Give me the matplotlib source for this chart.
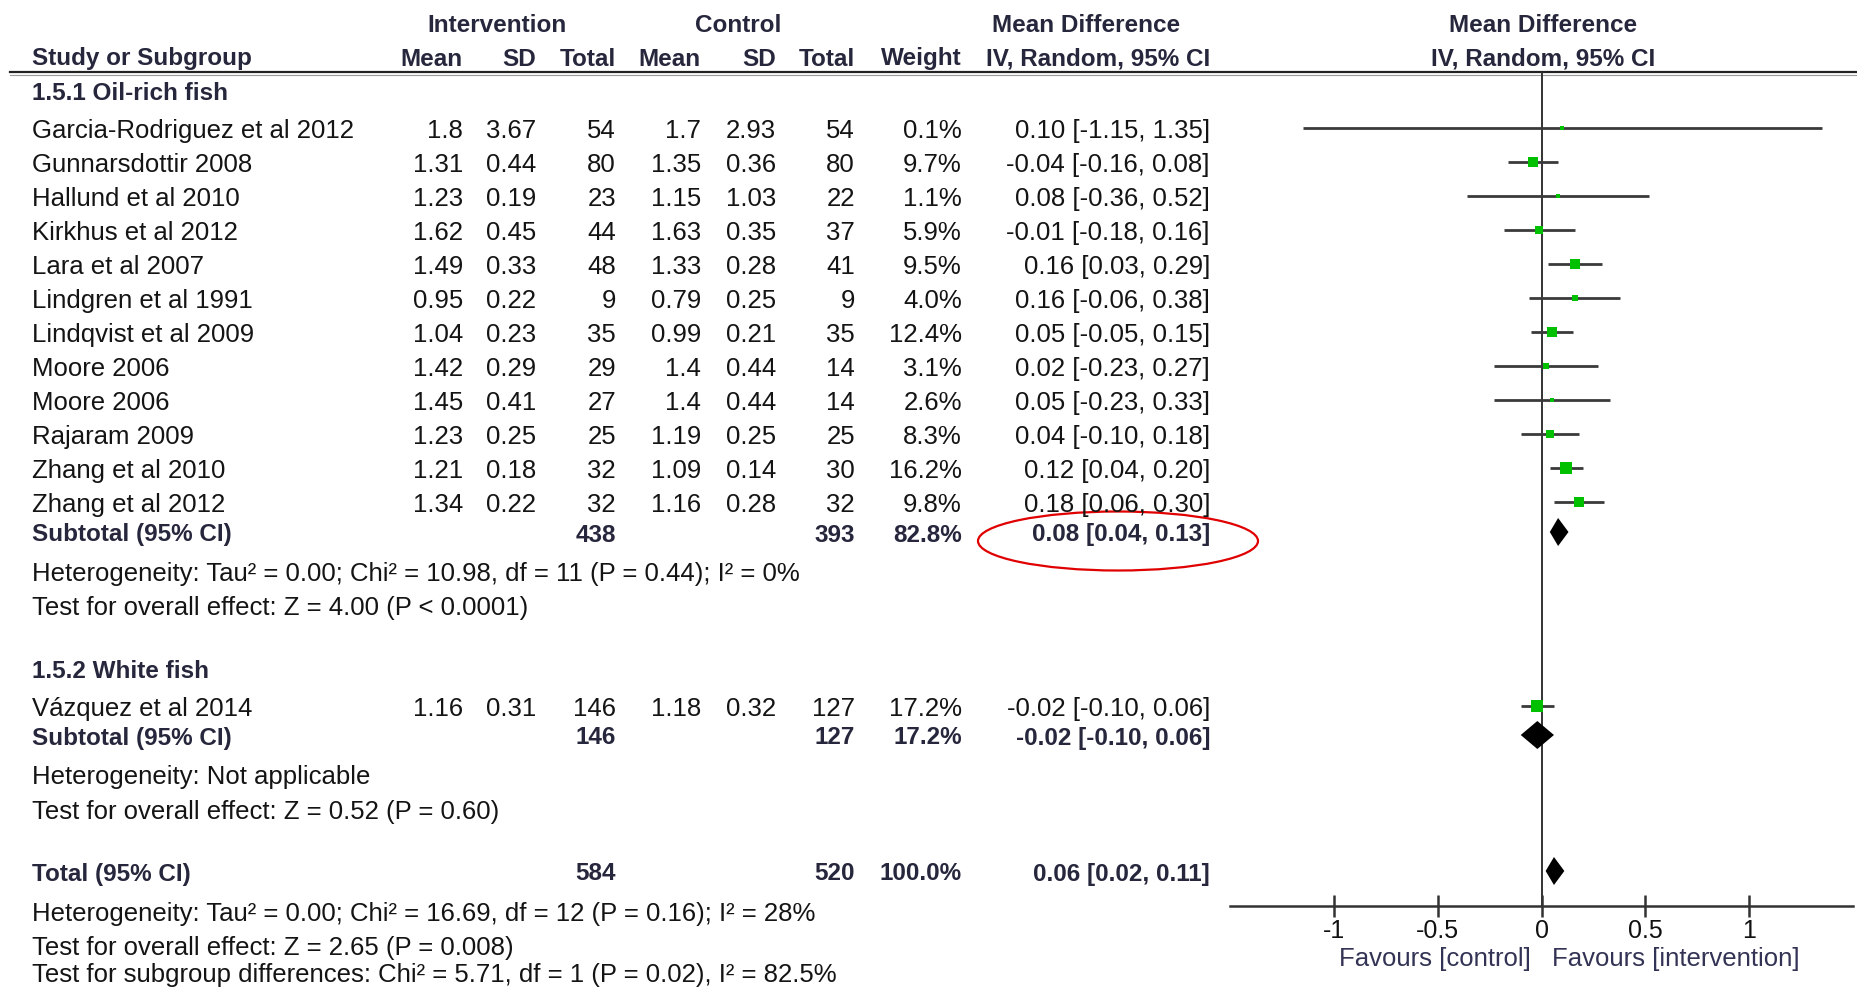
import matplotlib
matplotlib.use("Agg")
import matplotlib.pyplot as plt
from matplotlib.patches import Ellipse

plt.rcParams['font.family'] = ['Liberation Sans', 'DejaVu Sans']
plt.rcParams['axes.unicode_minus'] = False

# 1.5.1 Oil-rich fish
studies1 = ["Garcia-Rodriguez et al 2012", "Gunnarsdottir 2008", "Hallund et al 2010",
            "Kirkhus et al 2012", "Lara et al 2007", "Lindgren et al 1991",
            "Lindqvist et al 2009", "Moore 2006", "Moore 2006", "Rajaram 2009",
            "Zhang et al 2010", "Zhang et al 2012"]
int_mean1 = [1.8, 1.31, 1.23, 1.62, 1.49, 0.95, 1.04, 1.42, 1.45, 1.23, 1.21, 1.34]
int_sd1 = [3.67, 0.44, 0.19, 0.45, 0.33, 0.22, 0.23, 0.29, 0.41, 0.25, 0.18, 0.22]
int_n1 = [54, 80, 23, 44, 48, 9, 35, 29, 27, 25, 32, 32]
ctl_mean1 = [1.7, 1.35, 1.15, 1.63, 1.33, 0.79, 0.99, 1.4, 1.4, 1.19, 1.09, 1.16]
ctl_sd1 = [2.93, 0.36, 1.03, 0.35, 0.28, 0.25, 0.21, 0.44, 0.44, 0.25, 0.14, 0.28]
ctl_n1 = [54, 80, 22, 37, 41, 9, 35, 14, 14, 25, 30, 32]
weight1 = [0.1, 9.7, 1.1, 5.9, 9.5, 4.0, 12.4, 3.1, 2.6, 8.3, 16.2, 9.8]
md1 = [0.10, -0.04, 0.08, -0.01, 0.16, 0.16, 0.05, 0.02, 0.05, 0.04, 0.12, 0.18]
lo1 = [-1.15, -0.16, -0.36, -0.18, 0.03, -0.06, -0.05, -0.23, -0.23, -0.10, 0.04, 0.06]
hi1 = [1.35, 0.08, 0.52, 0.16, 0.29, 0.38, 0.15, 0.27, 0.33, 0.18, 0.20, 0.30]
sub1 = dict(n_int=438, n_ctl=393, w=82.8, md=0.08, lo=0.04, hi=0.13)
het1 = "Heterogeneity: Tau² = 0.00; Chi² = 10.98, df = 11 (P = 0.44); I² = 0%"
eff1 = "Test for overall effect: Z = 4.00 (P < 0.0001)"

# 1.5.2 White fish
studies2 = ["Vázquez et al 2014"]
int_mean2 = [1.16]
int_sd2 = [0.31]
int_n2 = [146]
ctl_mean2 = [1.18]
ctl_sd2 = [0.32]
ctl_n2 = [127]
weight2 = [17.2]
md2 = [-0.02]
lo2 = [-0.10]
hi2 = [0.06]
sub2 = dict(n_int=146, n_ctl=127, w=17.2, md=-0.02, lo=-0.10, hi=0.06)
het2 = "Heterogeneity: Not applicable"
eff2 = "Test for overall effect: Z = 0.52 (P = 0.60)"

total = dict(n_int=584, n_ctl=520, w=100.0, md=0.06, lo=0.02, hi=0.11)
het_t = "Heterogeneity: Tau² = 0.00; Chi² = 16.69, df = 12 (P = 0.16); I² = 28%"
eff_t = "Test for overall effect: Z = 2.65 (P = 0.008)"
sub_t = "Test for subgroup differences: Chi² = 5.71, df = 1 (P = 0.02), I² = 82.5%"

ticks = [-1, -0.5, 0, 0.5, 1]
tick_labels = ["-1", "-0.5", "0", "0.5", "1"]

W, H = 1857, 989
fig = plt.figure(figsize=(W / 100, H / 100), dpi=100)
bg = fig.add_axes([0, 0, 1, 1])
bg.set_xlim(0, W)
bg.set_ylim(H, 0)
bg.axis('off')

fa = fig.add_axes([1230 / W, 0, 623 / W, 1])
fa.set_xlim(-1.5, 1.5)
fa.set_ylim(H, 0)
fa.patch.set_alpha(0)
for s in ['top', 'left', 'right']:
    fa.spines[s].set_visible(False)
fa.spines['bottom'].set_position(('data', 906))
fa.spines['bottom'].set_linewidth(1.8)
fa.spines['bottom'].set_color('#333333')
fa.set_yticks([])
fa.set_xticks(ticks, tick_labels)
fa.tick_params(axis='x', direction='inout', length=16, width=1.8, color='#333333',
               labelsize=18, pad=1, labelcolor='#111111')

FS_B = 17.5
FS_R = 18.5
BOLD_C = '#26263c'
TXT_C = '#141414'
DY = 3

# column right edges
cx = dict(im=463, isd=536, itot=616, cm=701, csd=776, ctot=855, w=962, ci=1210)
xl = 32

def t(x, y, s, ha='right', bold=False, **kw):
    bg.text(x, y + DY, s, ha=ha, va='center', fontsize=FS_B if bold else FS_R,
            fontweight='bold' if bold else 'normal',
            color=BOLD_C if bold else TXT_C, **kw)

# header
t(497, 22, "Intervention", ha='center', bold=True)
t(738, 22, "Control", ha='center', bold=True)
t(1086, 22, "Mean Difference", ha='center', bold=True)
t(1543, 22, "Mean Difference", ha='center', bold=True)
t(xl, 56, "Study or Subgroup", ha='left', bold=True)
for key, lab in [('im', 'Mean'), ('isd', 'SD'), ('itot', 'Total'), ('cm', 'Mean'),
                 ('csd', 'SD'), ('ctot', 'Total'), ('w', 'Weight'), ('ci', 'IV, Random, 95% CI')]:
    t(cx[key], 56, lab, bold=True)
t(1543, 56, "IV, Random, 95% CI", ha='center', bold=True)
bg.plot([10, W], [72, 72], color='#222222', lw=1.6)
bg.plot([10, W], [75, 75], color='#999999', lw=0.8)
fa.plot([0, 0], [73, 906], color='#333333', lw=1.4)

def ci_txt(md, lo, hi):
    return f"{md:.2f} [{lo:.2f}, {hi:.2f}]"

def study_rows(y0, names, im, isd, inn, cm, csd, cn, w, md, lo, hi):
    for i in range(len(names)):
        y = y0 + 34 * i
        t(xl, y, names[i], ha='left')
        t(cx['im'], y, f"{im[i]:g}")
        t(cx['isd'], y, f"{isd[i]:g}")
        t(cx['itot'], y, f"{inn[i]}")
        t(cx['cm'], y, f"{cm[i]:g}")
        t(cx['csd'], y, f"{csd[i]:g}")
        t(cx['ctot'], y, f"{cn[i]}")
        t(cx['w'], y, f"{w[i]:.1f}%")
        t(cx['ci'], y, ci_txt(md[i], lo[i], hi[i]))
        fa.plot([lo[i], hi[i]], [y, y], color='#3a3a3a', lw=2.0, solid_capstyle='butt', zorder=2)
        side = max(3.5, 3.0 * w[i] ** 0.5) * 0.72
        fa.plot([md[i]], [y], marker='s', ms=side, color='#00c000', mew=0, zorder=3)

def summary_row(y, label, d):
    t(xl, y, label, ha='left', bold=True)
    t(cx['itot'], y, f"{d['n_int']}", bold=True)
    t(cx['ctot'], y, f"{d['n_ctl']}", bold=True)
    t(cx['w'], y, f"{d['w']:.1f}%", bold=True)
    t(cx['ci'], y, ci_txt(d['md'], d['lo'], d['hi']), bold=True)
    hh = 14
    fa.fill([d['lo'], d['md'], d['hi'], d['md']], [y, y - hh, y, y + hh],
            color='black', lw=0, zorder=3)

t(xl, 90, "1.5.1 Oil-rich fish", ha='left', bold=True)
study_rows(128, studies1, int_mean1, int_sd1, int_n1, ctl_mean1, ctl_sd1, ctl_n1,
           weight1, md1, lo1, hi1)
summary_row(532, "Subtotal (95% CI)", sub1)
t(xl, 571, het1, ha='left')
t(xl, 605, eff1, ha='left')

t(xl, 668, "1.5.2 White fish", ha='left', bold=True)
study_rows(706, studies2, int_mean2, int_sd2, int_n2, ctl_mean2, ctl_sd2, ctl_n2,
           weight2, md2, lo2, hi2)
summary_row(735, "Subtotal (95% CI)", sub2)
t(xl, 774, het2, ha='left')
t(xl, 809, eff2, ha='left')

summary_row(871, "Total (95% CI)", total)
t(xl, 911, het_t, ha='left')
t(xl, 945, eff_t, ha='left')
t(xl, 972, sub_t, ha='left')

bg.text(1531, 956 + DY, "Favours [control]", ha='right', va='center', fontsize=FS_R, color='#333355')
bg.text(1552, 956 + DY, "Favours [intervention]", ha='left', va='center', fontsize=FS_R, color='#333355')

bg.add_patch(Ellipse((1118, 541), 280, 59, fill=False, ec='#e00000', lw=1.6))

fig.savefig("out.png", dpi=100)
